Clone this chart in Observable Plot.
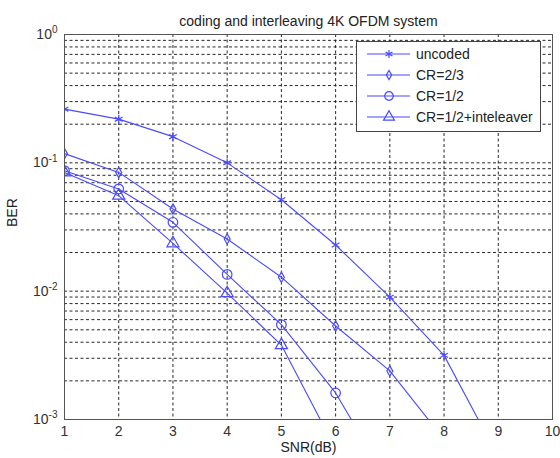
<!DOCTYPE html>
<html>
<head>
<meta charset="utf-8">
<script src="https://cdn.jsdelivr.net/npm/d3@7"></script>
<script src="https://cdn.jsdelivr.net/npm/@observablehq/plot@0.6"></script>
<style>
  html, body { margin: 0; padding: 0; background: #fff; }
  #wrap { position: relative; width: 560px; height: 458px; font-family: "Liberation Sans", Arial, sans-serif; }
  #legend { position: absolute; left: 356px; top: 41px; width: 185px; height: 91px; background: #fff; border: 1px solid #444; box-sizing: border-box; }
  #legend svg { display: block; }
</style>
</head>
<body>
<div id="wrap"></div>
<script>
const title = "coding and interleaving 4K OFDM system";
const xLabel = "SNR(dB)";
const yLabel = "BER";
const seriesNames = ["uncoded", "CR=2/3", "CR=1/2", "CR=1/2+inteleaver"];
const seriesSymbols = ["asterisk", "diamond", "circle", "triangle"];
const snr = [1, 2, 3, 4, 5, 6, 7, 8, 9, 10];
const uncoded = [0.262, 0.219, 0.160, 0.100, 0.0516, 0.0229, 0.00898, 0.00316, 0.00051];
const cr23 = [0.118, 0.0842, 0.0437, 0.0255, 0.01285, 0.00535, 0.00239, 0.0007];
const cr12 = [0.0869, 0.0626, 0.0344, 0.0135, 0.00548, 0.00161, 0.00031];
const cr12i = [0.0842, 0.0555, 0.0236, 0.00964, 0.0038, 0.00059];
const xTicks = [1, 2, 3, 4, 5, 6, 7, 8, 9, 10];
const yTicks = [0.001, 0.01, 0.1, 1];
const yExponents = ["-3", "-2", "-1", "0"];

const lineColor = "#4a4aff";
const markerR = {asterisk: 4.2, diamond: 3.1, circle: 4.8, triangle: 4.5};
const allSeries = [uncoded, cr23, cr12, cr12i];
const data = allSeries.flatMap((vals, i) => vals.map((v, j) => ({x: snr[j], y: v, s: seriesNames[i], sym: seriesSymbols[i]})));

const yGrid = [];
for (const d of [-3, -2, -1]) for (let k = 1; k <= 9; k++) yGrid.push(k * Math.pow(10, d));
yGrid.push(1);

const dotMarks = seriesSymbols.map((sym) =>
  Plot.dot(data.filter((d) => d.sym === sym), {x: "x", y: "y", symbol: "s", stroke: lineColor, strokeWidth: 1.2, r: markerR[sym], fill: "none", clip: true})
);

const chart = Plot.plot({
  width: 560,
  height: 458,
  marginLeft: 64,
  marginRight: 8,
  marginTop: 34,
  marginBottom: 39,
  style: {fontFamily: "Liberation Sans, Arial, sans-serif", fontSize: "14px", color: "#333", background: "#fff"},
  x: {domain: [1, 10], ticks: xTicks, tickSize: 0, tickPadding: 7, tickFormat: d3.format("d"), label: null},
  y: {type: "log", domain: [0.001, 1], ticks: yTicks, tickSize: 0, tickPadding: 7,
      tickFormat: (d) => "10^" + yExponents[yTicks.indexOf(d)], label: null},
  symbol: {domain: seriesNames, range: seriesSymbols},
  marks: [
    Plot.gridX(xTicks, {stroke: "#111", strokeOpacity: 0.9, strokeDasharray: "3,2.5", strokeWidth: 1}),
    Plot.gridY(yGrid, {stroke: "#111", strokeOpacity: 0.9, strokeDasharray: "3,2.5", strokeWidth: 1}),
    Plot.line(data, {x: "x", y: "y", z: "s", stroke: lineColor, strokeWidth: 1.1, clip: true}),
    ...dotMarks,
    Plot.frame({stroke: "#555", strokeWidth: 1}),
    Plot.text([title], {frameAnchor: "top", dy: -18, fontSize: 14, fill: "#222"}),
    Plot.text([xLabel], {frameAnchor: "bottom", dy: 32, fontSize: 14, fill: "#222"}),
    Plot.text([yLabel], {frameAnchor: "left", dx: -52, rotate: -90, fontSize: 14, fill: "#222"})
  ]
});

// superscript exponents on log ticks
d3.select(chart).selectAll("text").each(function() {
  const t = this.textContent;
  if (/^10\^/.test(t)) {
    const exp = t.slice(3);
    const sel = d3.select(this);
    sel.text("10");
    sel.append("tspan").attr("dy", "-0.55em").attr("font-size", "10px").text(exp);
  }
});

const wrap = document.getElementById("wrap");
wrap.appendChild(chart);

// legend
const legend = document.createElement("div");
legend.id = "legend";
wrap.appendChild(legend);
const lsvg = d3.select(legend).append("svg").attr("width", 183).attr("height", 89);
const symMap = {asterisk: d3.symbolAsterisk, diamond: d3.symbolDiamond, circle: d3.symbolCircle, triangle: d3.symbolTriangle};
seriesNames.forEach((name, i) => {
  const y = 12 + i * 21;
  const sym = seriesSymbols[i];
  const g = lsvg.append("g").attr("transform", `translate(0,${y})`);
  g.append("line").attr("x1", 10).attr("x2", 53).attr("y1", 0).attr("y2", 0).attr("stroke", lineColor).attr("stroke-width", 1.1);
  g.append("path").attr("transform", "translate(32,0)")
    .attr("d", d3.symbol(symMap[sym], Math.PI * markerR[sym] * markerR[sym] * 0.8)())
    .attr("fill", "none").attr("stroke", lineColor).attr("stroke-width", 1.2);
  g.append("text").attr("x", 59).attr("y", 0).attr("dy", "0.35em")
    .attr("font-size", 14).attr("fill", "#222").text(name);
});
</script>
</body>
</html>
